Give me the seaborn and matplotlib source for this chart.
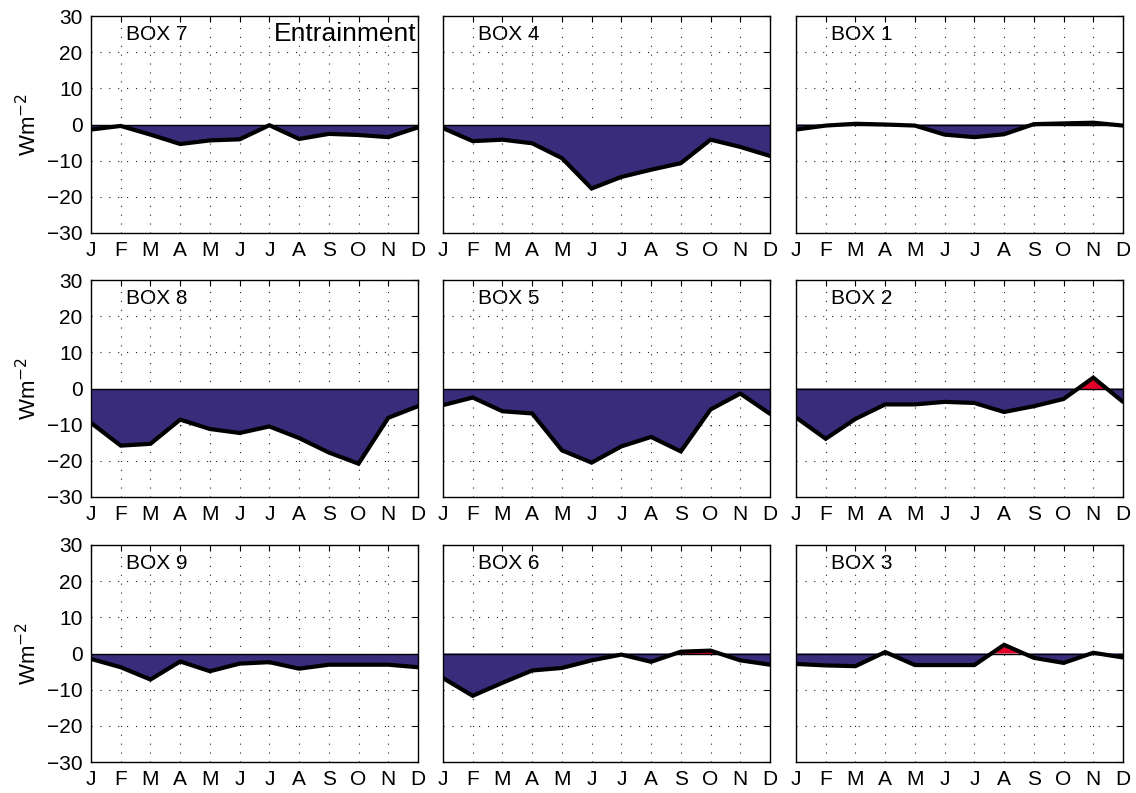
import numpy as np
import pandas as pd
import matplotlib
matplotlib.use("Agg")
import matplotlib.pyplot as plt
import seaborn as sns

sns.set_theme(style="white")
plt.rcParams['font.family'] = ['Liberation Sans', 'DejaVu Sans']
plt.rcParams['text.color'] = 'black'
plt.rcParams['axes.labelcolor'] = 'black'
plt.rcParams['xtick.color'] = 'black'
plt.rcParams['ytick.color'] = 'black'

months = ["J", "F", "M", "A", "M", "J", "J", "A", "S", "O", "N", "D"]
box_names = ["BOX 7", "BOX 4", "BOX 1",
             "BOX 8", "BOX 5", "BOX 2",
             "BOX 9", "BOX 6", "BOX 3"]

box7 = [-1.4, -0.4, -2.8, -5.4, -4.4, -4.1, -0.2, -4.0, -2.6, -2.9, -3.5, -0.8]
box4 = [-1.0, -4.6, -4.2, -5.2, -9.3, -17.7, -14.5, -12.5, -10.7, -4.2, -6.2, -8.7]
box1 = [-1.4, -0.3, 0.2, 0.0, -0.3, -2.8, -3.5, -2.7, 0.1, 0.3, 0.5, -0.3]
box8 = [-9.5, -15.8, -15.3, -8.6, -11.2, -12.3, -10.5, -13.7, -17.7, -20.8, -8.1, -4.9]
box5 = [-4.6, -2.5, -6.3, -6.9, -17.1, -20.5, -16.0, -13.4, -17.4, -5.8, -1.4, -7.0]
box2 = [-8.0, -13.9, -8.4, -4.4, -4.4, -3.7, -4.0, -6.5, -4.9, -2.9, 3.0, -3.7]
box9 = [-1.5, -3.8, -7.2, -2.2, -4.9, -2.8, -2.4, -4.2, -3.1, -3.1, -3.1, -3.8]
box6 = [-6.8, -11.7, -8.1, -4.7, -4.0, -1.9, -0.3, -2.3, 0.5, 0.8, -1.9, -3.1]
box3 = [-2.9, -3.3, -3.5, 0.4, -3.2, -3.2, -3.2, 2.4, -1.2, -2.6, 0.2, -1.1]

series = [box7, box4, box1, box8, box5, box2, box9, box6, box3]
title_text = "Entrainment"
ylabel_text = "Wm$^{-2}$"

neg_color = "#382C7B"
pos_color = "#E4002B"

W, H = 1136, 793
fig = plt.figure(figsize=(W / 100, H / 100), dpi=100)

lefts = [91, 443, 796]
tops = [16, 280, 545]
aw, ah = 327, 217

x = np.arange(1, 13)
for i, (name, vals) in enumerate(zip(box_names, series)):
    r, c = divmod(i, 3)
    ax = fig.add_axes([lefts[c] / W, 1 - (tops[r] + ah) / H, aw / W, ah / H])
    y = np.array(vals, dtype=float)
    df = pd.DataFrame({"month": x, "value": y})
    ax.fill_between(x, y, 0, where=y <= 0, interpolate=True, color=neg_color, lw=0, zorder=2)
    ax.fill_between(x, y, 0, where=y >= 0, interpolate=True, color=pos_color, lw=0, zorder=2)
    ax.axhline(0, color="black", lw=1.0, zorder=3)
    sns.lineplot(data=df, x="month", y="value", ax=ax, color="black", lw=3.0,
                 zorder=4, solid_joinstyle="miter")
    ax.set_xlim(1, 12)
    ax.set_ylim(-30, 30)
    ax.set_xticks(x)
    ax.set_xticklabels(months)
    ax.set_yticks(np.arange(-30, 31, 10))
    ax.grid(True, which="major", color="#222222", linestyle=(0, (1, 7)), lw=0.8, zorder=1)
    ax.set_axisbelow(True)
    ax.tick_params(direction="in", length=4, width=0.8, top=True, right=True,
                   labelsize=15, pad=6, colors="black")
    for sp in ax.spines.values():
        sp.set_color("black")
        sp.set_linewidth(1.0)
        sp.set_visible(True)
    ax.set_xlabel("")
    if c == 0:
        ax.set_ylabel(ylabel_text, fontsize=16, labelpad=4)
    else:
        ax.set_ylabel("")
        ax.set_yticklabels([])
    ax.text(0.107, 0.915, name, transform=ax.transAxes, fontsize=15,
            ha="left", va="center", zorder=5)
    if i == 0:
        ax.text(0.995, 0.915, title_text, transform=ax.transAxes, fontsize=19,
                ha="right", va="center", zorder=5)

fig.savefig("out.png", dpi=100)
